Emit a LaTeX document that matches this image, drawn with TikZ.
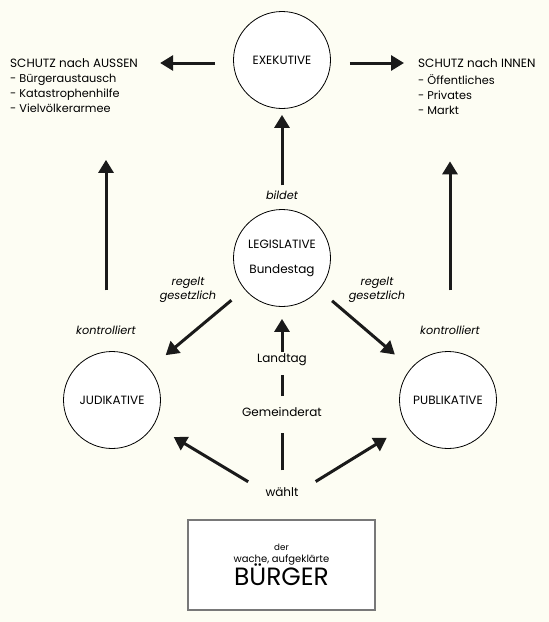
\documentclass[tikz,border=0pt]{standalone}
\usepackage{fontspec}
\setmainfont{Poppins}
\usetikzlibrary{arrows.meta}
\definecolor{paper}{RGB}{253,253,243}
\definecolor{ink}{RGB}{26,26,26}
\definecolor{rahmen}{RGB}{120,120,120}

\begin{document}
\begin{tikzpicture}[x=1pt,y=-1pt,>={Triangle[length=13pt,width=15pt]},
  gewalt/.style={circle,draw,fill=white,line width=0.8pt,minimum size=97pt,inner sep=0pt,
    font=\fontsize{12}{13}\selectfont},
  txt/.style={inner sep=0pt,font=\fontsize{12}{14}\selectfont},
  liste/.style={inner sep=0pt,align=left,font=\fontsize{11.3}{15}\selectfont},
  verb/.style={inner sep=0pt,align=center,font=\fontsize{11.3}{14}\selectfont\itshape},
  pfeil/.style={->,ink,line width=3pt},
  strich/.style={ink,line width=3pt}]
  \useasboundingbox[fill=paper] (0,0) rectangle (549,622);
  % die vier Gewalten
  \node[gewalt] (exek) at (282,60) {EXEKUTIVE};
  \node[gewalt,align=center] (legis) at (282,258) {LEGISLATIVE\\[12pt]Bundestag};
  \node[gewalt] (judik) at (112,400) {JUDIKATIVE};
  \node[gewalt] (publik) at (448,400) {PUBLIKATIVE};
  % Schutz nach aussen / innen
  \node[txt,anchor=west] (aussen) at (10,63) {SCHUTZ nach AUSSEN};
  \node[liste,anchor=north west] (aussenlist) at (10,74) {- Bürgeraustausch\\- Katastrophenhilfe\\- Vielvölkerarmee};
  \node[txt,anchor=west] (innen) at (418,63) {SCHUTZ nach INNEN};
  \node[liste,anchor=north west] (innenlist) at (418,74) {- Öffentliches\\- Privates\\- Markt};
  \draw[pfeil,shorten <=18pt,shorten >=22pt] (exek.west |- aussen.east) -- (aussen.east);
  \draw[pfeil,shorten <=19pt,shorten >=14pt] (exek.east |- innen.west) -- (innen.west);
  % Verben
  \node[verb] (bildet) at (282,195) {bildet};
  \node[verb] (regeltL) at (188,290) {regelt\\gesetzlich};
  \node[verb] (regeltR) at (377,290) {regelt\\gesetzlich};
  \node[verb] (kontrL) at (106,330) {kontrolliert};
  \node[verb] (kontrR) at (450,330) {kontrolliert};
  \draw[pfeil,shorten <=5pt,shorten >=6pt] (bildet) -- (exek);
  \draw[pfeil,shorten <=17pt,shorten >=21pt] (legis) -- (judik);
  \draw[pfeil,shorten <=17pt,shorten >=21pt] (legis) -- (publik);
  \draw[pfeil,shorten <=35pt,shorten >=47pt] (kontrL.north) -- (kontrL.north |- aussenlist.south);
  \draw[pfeil,shorten <=35pt,shorten >=47pt] (kontrR.north) -- (kontrR.north |- innenlist.south);
  % Wahl von unten nach oben
  \node[txt] (landtag) at (282,360) {Landtag};
  \node[txt] (gemeinde) at (282,412) {Gemeinderat};
  \node[txt] (waehlt) at (282,492) {wählt};
  \draw[strich,shorten <=17pt,shorten >=16pt] (waehlt) -- (gemeinde);
  \draw[strich,shorten <=11pt,shorten >=9pt] (gemeinde) -- (landtag);
  \draw[pfeil,shorten <=2pt,shorten >=12pt] (landtag) -- (legis);
  \draw[pfeil,shorten <=20pt,shorten >=23pt] (waehlt.west) -- (judik);
  \draw[pfeil,shorten <=20pt,shorten >=23pt] (waehlt.east) -- (publik);
  % der Buerger
  \node[draw=rahmen,line width=1.2pt,fill=white,minimum width=187pt,minimum height=90pt,align=center]
    (buerger) at (281.5,565) {\fontsize{8.7}{12.5}\selectfont der\\wache, aufgeklärte\\[-3pt]\fontsize{25}{25}\selectfont BÜRGER};
\end{tikzpicture}
\end{document}
